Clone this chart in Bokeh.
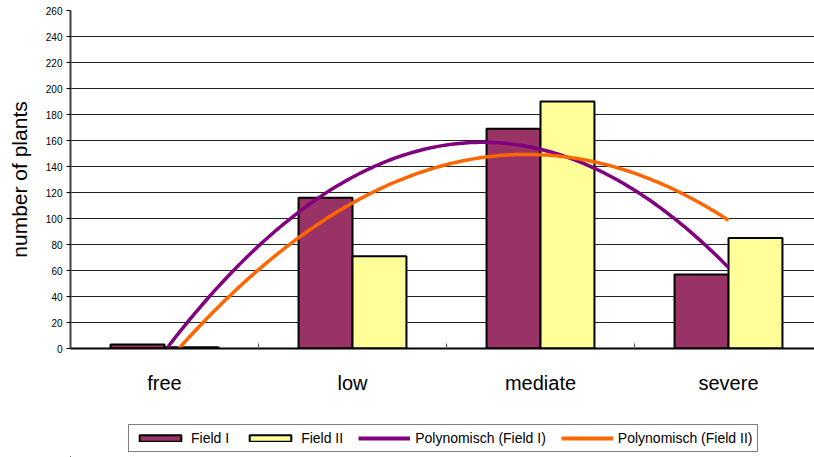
import numpy as np
from bokeh.plotting import figure
from bokeh.layouts import column
from bokeh.models import (Range1d, FixedTicker, Legend, LegendItem, ColumnDataSource)
from bokeh.embed import file_html
from bokeh.resources import INLINE

categories = ["free", "low", "mediate", "severe"]
field1 = [3, 116, 169, 57]
field2 = [1, 71, 190, 85]
y_ticks = list(range(0, 261, 20))
series_labels = ["Field I", "Field II", "Polynomisch (Field I)", "Polynomisch (Field II)"]

C_F1, C_F2, C_P1, C_P2 = "#993366", "#FFFF99", "#800080", "#FF6600"

xs = np.arange(1, len(categories) + 1)
bw = 0.287

p = figure(width=814, height=420, output_backend="svg", toolbar_location=None,
           x_range=Range1d(0.5, 0.5 + 744 / 188), y_range=Range1d(0, 260),
           min_border_left=70, min_border_right=0, min_border_top=10,
           min_border_bottom=72)
p.outline_line_color = None
p.background_fill_color = "white"
p.border_fill_color = "white"

src = ColumnDataSource(dict(x1=xs - bw / 2, x2=xs + bw / 2, f1=field1, f2=field2))
r1 = p.vbar(x="x1", top="f1", width=bw, bottom=0, source=src,
            fill_color=C_F1, line_color="black", line_width=2)
r2 = p.vbar(x="x2", top="f2", width=bw, bottom=0, source=src,
            fill_color=C_F2, line_color="black", line_width=2)

# polynomial (order 2) trendlines, as the spreadsheet fits them
xx = np.linspace(1, 4, 200)
c1 = np.polyfit(xs, field1, 2)
c2 = np.polyfit(xs, field2, 2)
p.line(xx, np.polyval(c1, xx), line_color=C_P1, line_width=3.5)
p.line(xx, np.polyval(c2, xx), line_color=C_P2, line_width=3.5)

# grid
p.xgrid.grid_line_color = None
p.ygrid.ticker = FixedTicker(ticks=y_ticks)
p.ygrid.grid_line_color = "#222222"
p.ygrid.grid_line_width = 1

# y axis
p.yaxis.ticker = FixedTicker(ticks=y_ticks)
p.yaxis.axis_label = "number of plants"
p.yaxis.axis_label_text_font = "Liberation Sans"
p.yaxis.axis_label_text_font_size = "21px"
p.yaxis.axis_label_text_font_style = "normal"
p.yaxis.axis_label_text_color = "black"
p.yaxis.axis_label_standoff = 12
p.yaxis.major_label_text_font = "Liberation Sans"
p.yaxis.major_label_text_font_size = "10px"
p.yaxis.major_label_text_color = "black"
p.yaxis.major_label_standoff = 4
p.yaxis.axis_line_color = "#404040"
p.yaxis.axis_line_width = 2
p.yaxis.major_tick_in = 0
p.yaxis.major_tick_out = 4
p.yaxis.major_tick_line_color = "black"
p.yaxis.minor_tick_line_color = None

# x axis
p.xaxis.ticker = FixedTicker(ticks=list(xs), minor_ticks=[1.5, 2.5, 3.5])
p.xaxis.major_label_overrides = {int(i): c for i, c in zip(xs, categories)}
p.xaxis.major_label_text_font = "Liberation Sans"
p.xaxis.major_label_text_font_size = "20px"
p.xaxis.major_label_text_color = "black"
p.xaxis.major_label_standoff = 17
p.xaxis.major_tick_line_color = None
p.xaxis.minor_tick_in = 5
p.xaxis.minor_tick_out = 0
p.xaxis.minor_tick_line_color = "#555555"
p.xaxis.axis_line_color = "black"
p.xaxis.axis_line_width = 2

# legend strip below the chart (swatch renderers sit outside its visible range)
q = figure(width=814, height=37, output_backend="svg", toolbar_location=None,
           x_range=Range1d(0, 1), y_range=Range1d(0, 1),
           x_axis_type=None, y_axis_type=None,
           min_border_left=0, min_border_right=0, min_border_top=0, min_border_bottom=0)
q.outline_line_color = None
q.background_fill_color = "white"
q.border_fill_color = "white"
hidden = ColumnDataSource(dict(x=[-10, -9], y=[-10, -9]))
d1 = q.vbar(x="x", top="y", width=0.1, source=hidden, fill_color=C_F1, line_color="black", line_width=2)
d2 = q.vbar(x="x", top="y", width=0.1, source=hidden, fill_color=C_F2, line_color="black", line_width=2)
d3 = q.line(x="x", y="y", source=hidden, line_color=C_P1, line_width=4)
d4 = q.line(x="x", y="y", source=hidden, line_color=C_P2, line_width=4)

legend = Legend(items=[LegendItem(label=lab, renderers=[r])
                       for lab, r in zip(series_labels, [d1, d2, d3, d4])],
                orientation="horizontal", location=(58, 5))
legend.label_text_font = "Liberation Sans"
legend.label_text_font_size = "14px"
legend.label_text_color = "black"
legend.glyph_width = 52
legend.glyph_height = 8
legend.label_height = 16
legend.label_standoff = 5
legend.spacing = 15
legend.padding = 5
legend.margin = 0
legend.border_line_color = "black"
legend.border_line_width = 1
legend.background_fill_color = "white"
q.add_layout(legend, "center")

layout = column(p, q, spacing=0)
open("out.html", "w").write(file_html(layout, INLINE))
